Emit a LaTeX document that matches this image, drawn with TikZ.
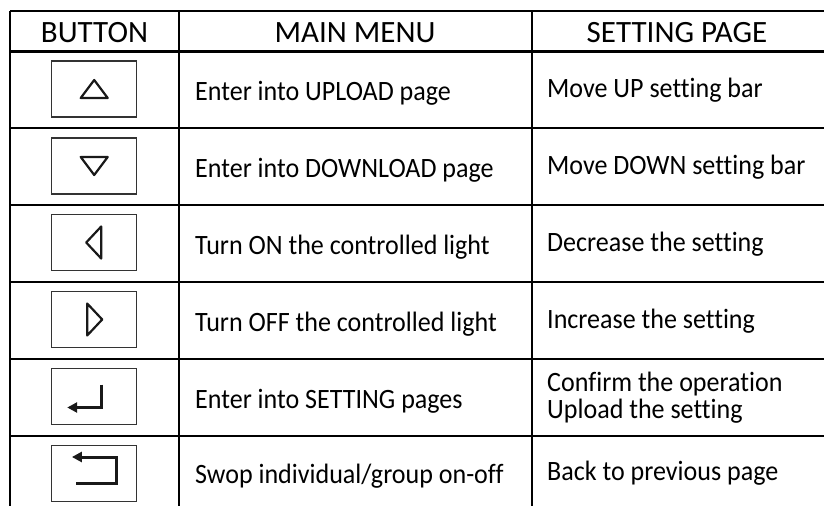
\documentclass[tikz,border=0pt]{standalone}
\usepackage{fontspec}
\setmainfont{Carlito}[Ligatures=NoCommon]
\newfontfamily\bodyfont{Carlito}[FakeStretch=0.93, Ligatures=NoCommon]
\usetikzlibrary{arrows.meta}
\begin{document}
\begin{tikzpicture}[x=1pt,y=-1pt,
  rule/.style={line width=2.5pt, black},
  btn/.style={draw=black!80, line width=1.1pt, minimum width=85pt, minimum height=56pt, inner sep=0pt},
  tri/.style={draw=black!90, line width=2.2pt, line join=round},
  icon/.style={draw=black!90, line width=3pt, line join=miter, -{Triangle[length=10pt,width=10pt]}},
  hdr/.style={anchor=base, inner sep=0pt, font=\fontsize{31}{31}\selectfont},
  cell/.style={anchor=base west, inner sep=0pt, font=\bodyfont\fontsize{28}{27}\selectfont, align=left}]
\useasboundingbox (0,0) rectangle (824,506);
% grid
\foreach \y in {11,51.7,128,205,282,359,436} \draw[rule] (10,\y) -- (824,\y);
\foreach \x in {10,179,532} \draw[rule] (\x,11) -- (\x,506);
% headers
\node[hdr] (h1) at (94.5,42.5) {BUTTON};
\node[hdr] (h2) at (355,42.5) {MAIN MENU};
\node[hdr] (h3) at (677,42.5) {SETTING PAGE};
% buttons
\node[btn] (b1) at (94.2,89) {};
\node[btn] (b2) at (94.2,166) {};
\node[btn] (b3) at (94.2,242.5) {};
\node[btn] (b4) at (94.2,319.5) {};
\node[btn] (b5) at (94.2,396.5) {};
\node[btn] (b6) at (94.2,473.3) {};
% icons
\draw[tri, shift={(b1.center)}] (-13.5,9) -- (13.5,9) -- (0,-9) -- cycle;
\draw[tri, shift={(b2.center)}] (-13.5,-9) -- (13.5,-9) -- (0,9) -- cycle;
\draw[tri, shift={(b3.center)}] (7,-16) -- (7,16) -- (-8,0) -- cycle;
\draw[tri, shift={(b4.center)}] (-7,-16) -- (-7,16) -- (8,0) -- cycle;
\draw[icon, shift={(b5.center)}] (7.7,-12) -- (7.7,11) -- (-27,11);
\draw[icon, shift={(b6.center)}] (-18,10) -- (22.7,10) -- (22.7,-16.3) -- (-22.3,-16.3);
% main menu column
\node[cell] (m1) at (195,100) {Enter into UPLOAD page};
\node[cell] (m2) at (195,177) {Enter into DOWNLOAD page};
\node[cell] (m3) at (195,254) {Turn ON the controlled light};
\node[cell] (m4) at (195,331) {Turn OFF the controlled light};
\node[cell] (m5) at (195,408) {Enter into SETTING pages};
\node[cell] (m6) at (195,483) {Swop individual/group on-off};
% setting page column
\node[cell] (s1) at (547,97) {Move UP setting bar};
\node[cell] (s2) at (547,174) {Move DOWN setting bar};
\node[cell] (s3) at (547,251) {Decrease the setting};
\node[cell] (s4) at (547,328) {Increase the setting};
\node[cell] (s5) at (547,418) {Confirm the operation\\Upload the setting};
\node[cell] (s6) at (547,480) {Back to previous page};
\end{tikzpicture}
\end{document}
